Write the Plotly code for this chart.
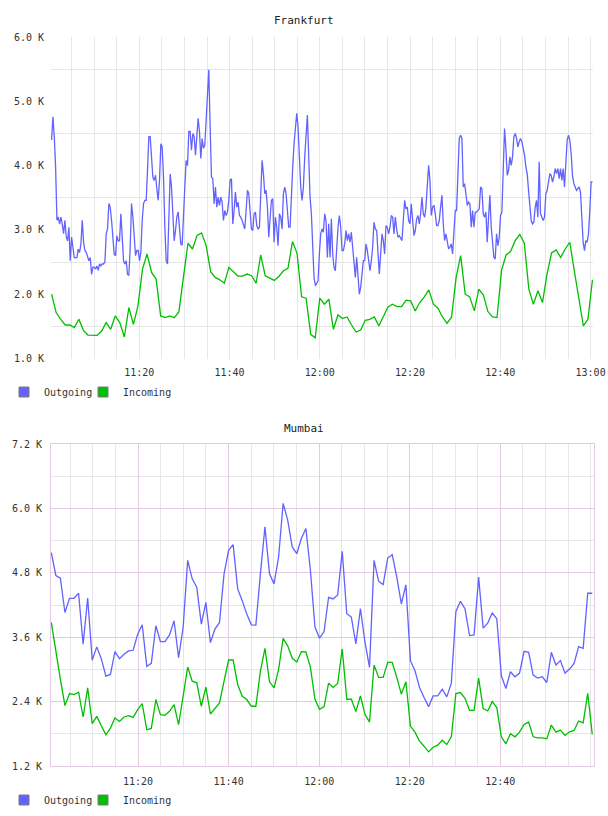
import pandas as pd
import plotly.graph_objects as go

DAY = "2024-05-14 "

# ---------------- data ----------------
FRA_OUT = [
    4400, 4760, 4450, 3980, 3150, 3200, 3090, 3200, 3090, 2940,
    3150, 2890, 2830, 3040, 2520, 2890, 2730, 2570, 2570, 2570,
    2700, 2650, 2780, 3150, 2810, 2680, 2650, 2570, 2520, 2570,
    2310, 2420, 2420, 2390, 2440, 2370, 2470, 2440, 2470, 2470,
    2500, 2940, 3020, 3410, 3350, 3150, 2830, 2620, 2600, 2910,
    2830, 2830, 3250, 2830, 2520, 2470, 2520, 2310, 2290, 2730,
    3410, 3200, 2880, 2600, 2680, 2680, 2520, 2650, 3150, 3410,
    3460, 3460, 3930, 4450, 4450, 4080, 3820, 3770, 3850, 3640,
    3460, 3770, 4340, 4290, 3820, 3040, 2520, 2470, 3040, 3870,
    3670, 3200, 2830, 2990, 3200, 3280, 2990, 2780, 2760, 3350,
    3670, 4080, 4000,
    4530, 4530, 4240, 4500, 4450, 4160, 4450, 4735, 4530, 4110,
    4420, 4270, 4320, 4710, 5125, 5490, 4605, 3823, 3797, 3407,
    3667, 3354, 3510, 3380, 3510, 3432, 3146, 3302, 3224, 3276,
    3459, 3771, 3797, 3094, 3302, 3589, 3354, 3432, 3224, 3198,
    3146, 3094, 3016, 3302, 3615, 3563, 3198, 3016, 2990, 3250,
    3276, 3068, 3016, 3042, 3563, 4084, 3875, 3563, 3615, 3354,
    2886, 3198, 3459, 3485, 2808, 3198, 3042, 2756, 3250, 3198,
    3016, 3563, 3667, 3563, 3250, 3042, 3042, 3615, 3979, 4344,
    4657, 4813, 4605, 4084, 3667, 3459, 3667, 4136, 4552, 4787,
    4136, 3510, 3250, 2573, 2261, 2131, 2183, 2209, 2625, 2938,
    3016, 2964,
    3250, 3146, 2573, 3094, 2573, 3172, 2625, 2417, 2365, 2730,
    3042, 3224, 3042, 2677, 2677, 2782, 2990, 2834, 2938, 2808,
    2964, 2730, 2469, 2261, 2573, 2209, 2000, 2105, 2313, 2521,
    2521, 2782, 2677, 2521, 2365, 2521, 2730, 3120, 3016, 2990,
    2521, 2313, 2625, 2938, 2834, 2625, 3068, 3042, 2938, 3042,
    3224, 3198, 2938, 3198, 3016, 2886, 2912, 2860, 2834, 3146,
    3459, 3328, 3354, 3146, 3094, 3407, 3198, 2912, 2990, 3172,
    3224, 3094, 3250, 3510, 3250, 3198, 3354, 3615, 4005, 3771,
    3224, 3354, 3380, 3250, 3068, 3068, 3146, 3354, 3537, 3094,
    2834, 2938, 2782, 2704, 2730, 2782, 2625, 2938, 3302, 3302,
    3875, 4422,
    4474, 4422, 3667, 3719, 3563, 3380, 3432, 3407, 3042, 3302,
    3042, 3276, 3276, 3302, 3328, 3667, 3641, 3250, 3198, 3276,
    2808, 3198, 3537, 3042, 2808, 2573, 2547, 2938, 2756, 2886,
    3224, 3276, 3927, 4578, 4266, 3849, 3927, 4136, 4005, 4136,
    4448, 4500, 4422, 4292, 4370, 4422, 4370, 4266, 4162, 3979,
    3875, 3615, 3407, 3146, 3094, 3120, 3354, 3459, 3198, 4058,
    3250, 3198, 3146, 3198, 3563, 3615, 3719, 3875, 3849, 3745,
    3823, 3953, 3875, 3953, 3797, 3953, 3771, 3953, 3667, 4084,
    4396, 4474, 4396, 4188, 3849, 3719, 3667, 3615, 3641, 3667,
    3589, 3198, 2808, 2677, 2834, 2808, 2938, 3302, 3745, 3745,
]

FRA_IN = [
    2000, 1714, 1610, 1521, 1521, 1480, 1610, 1438, 1365, 1360,
    1360, 1428, 1558, 1454, 1662, 1558, 1334, 1792, 1532, 1818,
    2391, 2625, 2339, 2235, 1662, 1636, 1662, 1636, 1724, 2261,
    2792, 2703, 2912, 2954, 2756, 2349, 2261, 2224, 2172, 2417,
    2349, 2282, 2282, 2313, 2287, 2172, 2610, 2287, 2250, 2214,
    2276, 2365, 2401, 2818, 2636, 1959, 1938, 1375, 1323, 1938,
    1844, 1922, 1454, 1677, 1620, 1646, 1521, 1412, 1443, 1594,
    1610, 1646, 1506, 1646, 1802, 1844, 1808, 1808, 1907, 1896,
    1740, 1870, 1959, 2068, 1844, 1782, 1646, 1547, 1646, 2261,
    2600, 2000, 1959, 1740, 2079, 1985, 1730, 1646, 1636, 2375,
    2610, 2667, 2834, 2928, 2792, 2079, 1844, 2053, 1870, 2313,
    2641, 2688, 2573, 2703, 2808, 2365, 1938, 1506, 1610, 2224,
]

BOM_OUT = [
    5175, 4750, 4700, 4060, 4325, 4325, 4420, 3470, 4330, 3170,
    3420, 3200, 2875, 2906, 3331, 3200, 3281, 3344, 3356, 3656,
    3831, 3056, 3113, 3813, 3519, 3519, 3644, 3906, 3219, 3781,
    5031, 4688, 4531, 3844, 4250, 3500, 3750, 3875, 4781, 5219,
    5325, 4500, 4281, 4030, 3830, 3825, 4781, 5656, 4781, 4594,
    5094, 6094, 5781, 5281, 5156, 5438, 5625, 4844, 3788, 3581,
    3706, 4344, 4313, 4388, 5200, 4038, 3975, 3475, 4131, 3506,
    3038, 5031, 4644, 4581, 5075, 5138, 4719, 4219, 4575, 3163,
    2975, 2663, 2475, 2306, 2506, 2506, 2631, 2488, 2744, 4081,
    4269, 4131, 3631, 3644, 4719, 3769, 3863, 4050, 3944, 2881,
    2644, 2956, 2863, 2931, 3338, 3319, 2894, 2838, 2863, 2756,
    3319, 3081, 3163, 2931, 3006, 3113, 3425, 3394, 4419, 4419,
]

BOM_IN = [
    3875, 3313, 2813, 2325, 2550, 2531, 2575, 2113, 2656, 1988,
    2125, 1950, 1781, 1906, 2094, 2031, 2113, 2138, 2106, 2250,
    2363, 1875, 1900, 2438, 2156, 2144, 2219, 2344, 1969, 2500,
    3044, 2781, 2750, 2313, 2669, 2169, 2281, 2375, 2781, 3175,
    3175, 2719, 2500, 2438, 2313, 2313, 2969, 3394, 2769, 2656,
    3000, 3581, 3438, 3206, 3138, 3331, 3325, 3038, 2444, 2256,
    2306, 2744, 2663, 2738, 3381, 2444, 2444, 2213, 2506, 2163,
    2019, 3081, 2850, 2850, 3131, 3131, 2850, 2538, 2769, 1944,
    1831, 1663, 1569, 1463, 1550, 1588, 1681, 1600, 1744, 2550,
    2569, 2463, 2238, 2238, 2838, 2269, 2225, 2400, 2288, 1744,
    1613, 1800, 1744, 1831, 1975, 2019, 1744, 1725, 1725, 1706,
    1963, 1831, 1869, 1769, 1838, 1863, 2038, 2006, 2556, 1788,
]

FRA_T = pd.date_range(DAY + "11:00:34", DAY + "13:00:25", periods=len(FRA_OUT))
FRA_T_IN = pd.date_range(DAY + "11:00:34", DAY + "13:00:25", periods=len(FRA_IN))
BOM_T = pd.date_range(DAY + "11:00:51", DAY + "13:00:18", periods=len(BOM_OUT))

FRA_YTICKS = [1000, 2000, 3000, 4000, 5000, 6000]
FRA_YLABELS = ["1.0 K", "2.0 K", "3.0 K", "4.0 K", "5.0 K", "6.0 K"]
FRA_YMINOR = [1500, 2500, 3500, 4500, 5500]
BOM_YTICKS = [1200, 2400, 3600, 4800, 6000, 7200]
BOM_YLABELS = ["1.2 K", "2.4 K", "3.6 K", "4.8 K", "6.0 K", "7.2 K"]
BOM_YMINOR = [1800, 3000, 4200, 5400, 6600]

XLABELS = ["11:20", "11:40", "12:00", "12:20", "12:40", "13:00"]
XMINOR = ["11:%02d" % m for m in range(5, 60, 5)] + ["12:%02d" % m for m in range(0, 60, 5)] + ["13:00"]

SERIES_NAMES = ["Outgoing", "Incoming"]

# ---------------- style ----------------
W, H = 608, 816
BLUE = "#6262ff"
GREEN = "#00bf00"
GRID = "#e6e6e6"
PINK = "#e3c9e3"
FONT = "DejaVu Sans Mono"
TXT = "#333333"


def fx(p):
    return p / W


def fy(p):
    return 1 - p / H


fig = go.Figure()

fig.add_trace(go.Scatter(x=FRA_T, y=FRA_OUT, mode="lines", line=dict(color=BLUE, width=1.3),
                         xaxis="x", yaxis="y", showlegend=False, hoverinfo="skip"))
fig.add_trace(go.Scatter(x=FRA_T_IN, y=FRA_IN, mode="lines", line=dict(color=GREEN, width=1.3),
                         xaxis="x", yaxis="y", showlegend=False, hoverinfo="skip"))
fig.add_trace(go.Scatter(x=BOM_T, y=BOM_OUT, mode="lines", line=dict(color=BLUE, width=1.3),
                         xaxis="x2", yaxis="y2", showlegend=False, hoverinfo="skip"))
fig.add_trace(go.Scatter(x=BOM_T, y=BOM_IN, mode="lines", line=dict(color=GREEN, width=1.3),
                         xaxis="x2", yaxis="y2", showlegend=False, hoverinfo="skip"))

# legend entries (square swatches), one small legend per entry
for name, col, lg, ax, ay in [(SERIES_NAMES[0], BLUE, "legend", "x", "y"),
                              (SERIES_NAMES[1], GREEN, "legend3", "x", "y"),
                              (SERIES_NAMES[0], BLUE, "legend2", "x2", "y2"),
                              (SERIES_NAMES[1], GREEN, "legend4", "x2", "y2")]:
    fig.add_trace(go.Scatter(x=[None], y=[None], mode="markers", name=name, legend=lg,
                             xaxis=ax, yaxis=ay,
                             marker=dict(symbol="square", size=10, color=col,
                                         line=dict(color="#7a7a7a", width=1))))

tickfont = dict(family=FONT, size=10, color=TXT)

xcommon = dict(type="date", tickmode="array", automargin=False,
               ticks="", tickfont=tickfont, zeroline=False, fixedrange=True,
               ticklabelstandoff=6)

legend_common = dict(orientation="h", xanchor="left", yanchor="middle",
                     font=dict(family=FONT, size=10, color=TXT), bgcolor="rgba(0,0,0,0)",
                     itemwidth=30, tracegroupgap=0)

fig.update_layout(
    width=W, height=H,
    margin=dict(l=0, r=0, t=0, b=0, autoexpand=False),
    paper_bgcolor="white", plot_bgcolor="white",
    font=dict(family=FONT, size=10, color=TXT),
    xaxis=dict(domain=[fx(51), fx(593.3)], anchor="y",
               range=[DAY + "11:00:26", DAY + "13:00:36"],
               tickvals=[DAY + t for t in XLABELS], ticktext=XLABELS,
               showgrid=True, gridcolor=GRID, gridwidth=1, showline=False,
               minor=dict(tickmode="array", tickvals=[DAY + t for t in XMINOR],
                          showgrid=True, gridcolor=GRID, gridwidth=1),
               **xcommon),
    yaxis=dict(domain=[fy(358.5), fy(37)], anchor="x", range=[1000, 6000], automargin=False,
               tickmode="array", tickvals=FRA_YTICKS, ticktext=FRA_YLABELS,
               showgrid=False, zeroline=False, showline=False, ticks="",
               ticklabelstandoff=6, tickfont=tickfont, fixedrange=True,
               minor=dict(tickmode="array", tickvals=FRA_YMINOR, showgrid=True,
                          gridcolor=GRID, gridwidth=1)),
    xaxis2=dict(domain=[fx(51), fx(594)], anchor="y2",
                range=[DAY + "11:00:47", DAY + "13:00:41"],
                tickvals=[DAY + t for t in XLABELS[:-1]], ticktext=XLABELS[:-1],
                showgrid=True, gridcolor=PINK, gridwidth=1,
                showline=True, mirror=True, linecolor=PINK, linewidth=1,
                minor=dict(tickmode="array", tickvals=[DAY + t for t in XMINOR],
                           showgrid=True, gridcolor=GRID, gridwidth=1),
                **xcommon),
    yaxis2=dict(domain=[fy(766), fy(444)], anchor="x2", range=[1200, 7200], automargin=False,
                tickmode="array", tickvals=BOM_YTICKS, ticktext=BOM_YLABELS,
                showgrid=True, gridcolor=PINK, gridwidth=1, zeroline=False,
                showline=True, mirror=True, linecolor=PINK, linewidth=1, ticks="",
                ticklabelstandoff=6, tickfont=tickfont, fixedrange=True,
                minor=dict(tickmode="array", tickvals=BOM_YMINOR, showgrid=True,
                           gridcolor=GRID, gridwidth=1)),
    legend=dict(x=fx(4), y=fy(392), **legend_common),
    legend3=dict(x=fx(83), y=fy(392), **legend_common),
    legend2=dict(x=fx(4), y=fy(800), **legend_common),
    legend4=dict(x=fx(83), y=fy(800), **legend_common),
    annotations=[
        dict(text="Frankfurt", xref="paper", yref="paper", x=0.5, y=fy(20), xanchor="center",
             yanchor="middle", showarrow=False, font=dict(family=FONT, size=11, color="#222222")),
        dict(text="Mumbai", xref="paper", yref="paper", x=0.5, y=fy(428), xanchor="center",
             yanchor="middle", showarrow=False, font=dict(family=FONT, size=11, color="#222222")),
    ],
    showlegend=True,
)

fig.write_html("out.html")
